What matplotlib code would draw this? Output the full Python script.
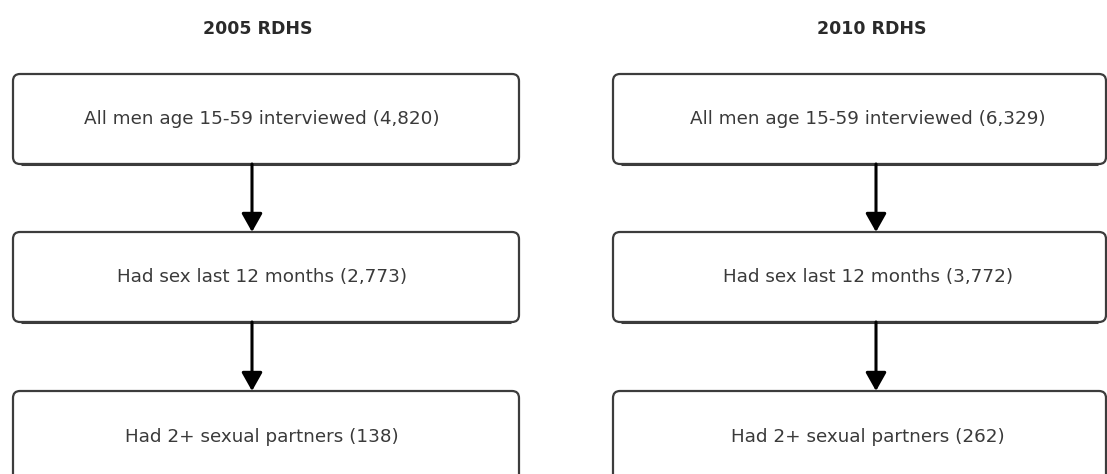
import matplotlib.pyplot as plt
from matplotlib.patches import FancyBboxPatch

# survey titles and flow steps
surveys = ['2005 RDHS', '2010 RDHS']
steps = ['All men age 15-59 interviewed',
         'Had sex last 12 months',
         'Had 2+ sexual partners']
counts_2005 = [4820, 2773, 138]
counts_2010 = [6329, 3772, 262]
counts = [counts_2005, counts_2010]

# layout in pixels (figure is 1107 x 474)
col_left = [13, 613]
col_right = [519, 1106]
arrow_x = [252, 876]
title_x = [258, 872]
text_x = [262, 868]
box_top = [74, 232, 391]
box_bottom = [164, 322, 483]

fig = plt.figure(figsize=(11.07, 4.74), dpi=100)
ax = fig.add_axes([0, 0, 1, 1])
ax.set_xlim(0, 1107)
ax.set_ylim(474, 0)
ax.axis('off')

for c in range(len(surveys)):
    x0, x1 = col_left[c], col_right[c]
    ax.text(title_x[c], 29, surveys[c], ha='center', va='center',
            fontsize=12.5, fontweight='bold', color='#2a2a2a')

    for i in range(len(steps)):
        y0, y1 = box_top[i], box_bottom[i]
        box = FancyBboxPatch((x0, y0), x1 - x0, y1 - y0,
                             boxstyle='round,pad=0,rounding_size=7',
                             fc='white', ec='#3c3c3c', lw=1.6)
        ax.add_patch(box)
        # slightly heavier bottom edge, like the original
        ax.plot([x0 + 8, x1 - 8], [y1, y1], color='#3c3c3c', lw=2.2,
                solid_capstyle='butt')
        ax.text(text_x[c], (y0 + y1) / 2,
                f'{steps[i]} ({counts[c][i]:,})',
                ha='center', va='center', fontsize=13.2, color='#3a3a3a')

        # arrow down to the next box
        if i < len(steps) - 1:
            ax.annotate('', xy=(arrow_x[c], box_top[i + 1]),
                        xytext=(arrow_x[c], y1),
                        arrowprops=dict(arrowstyle='-|>,head_length=0.8,head_width=0.45',
                                        color='black', lw=2.2,
                                        shrinkA=0, shrinkB=0,
                                        mutation_scale=14))

fig.savefig('out.png', dpi=100, facecolor='white')
